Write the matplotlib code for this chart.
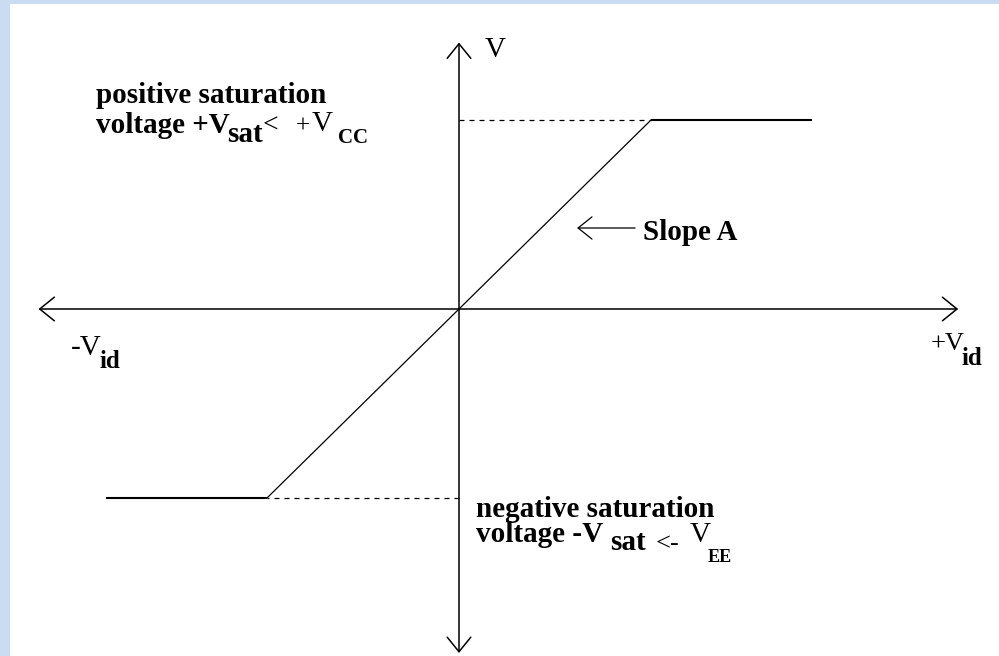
import matplotlib.pyplot as plt
from matplotlib.patches import Rectangle

plt.rcParams['font.family'] = ['Liberation Serif', 'DejaVu Serif']

# transfer curve of the op-amp (arbitrary units, saturation = +/-1)
vid = [-1.84, -1.0, 1.0, 1.84]
vout = [-1.0, -1.0, 1.0, 1.0]
# dashed guides from the V axis to the knees
knee_x = [-1.0, 1.0]
knee_y = [-1.0, 1.0]
# extent of the two axes
x_axis = (-2.19, 2.60)
y_axis = (-1.82, 1.41)
# slope label arrow
slope_from = (0.917, 0.4286)
slope_to = (0.615, 0.4286)

W, H = 999, 656
fig = plt.figure(figsize=(W / 100, H / 100), dpi=100)
fig.patch.set_facecolor('#c9dcf1')
fig.add_artist(Rectangle((10 / W, 0), 1 - 10 / W, 1 - 4 / H, transform=fig.transFigure,
                         facecolor='white', edgecolor='none', zorder=0))

ax = fig.add_axes([0, 0, 1, 1])
ax.set_xlim(-459 / 192, 540 / 192)
ax.set_ylim(-347 / 189, 309 / 189)
ax.axis('off')
ax.patch.set_visible(False)


def arrow(start, tip, lw=1.1, hl=1.05, hw=0.85):
    ax.annotate('', xy=tip, xytext=start,
                arrowprops=dict(arrowstyle='->,head_length=%s,head_width=%s' % (hl, hw),
                                lw=lw, color='black', shrinkA=0, shrinkB=0,
                                mutation_scale=10))


# axes with open arrowheads at both ends
arrow((0, 0), (x_axis[0], 0))
arrow((0, 0), (x_axis[1], 0))
arrow((0, 0), (0, y_axis[1]))
arrow((0, 0), (0, y_axis[0]))

# saturation levels and linear region
ax.plot(vid[:2], vout[:2], color='black', lw=1.5, solid_capstyle='butt')
ax.plot(vid[2:], vout[2:], color='black', lw=1.5, solid_capstyle='butt')
ax.plot(vid[1:3], vout[1:3], color='black', lw=0.9)
for kx, ky in zip(knee_x, knee_y):
    ax.plot([0, kx], [ky, ky], color='black', lw=0.9, linestyle=(0, (4, 4)))

arrow(slope_from, slope_to, lw=0.9, hl=1.0, hw=0.8)


def txt(x, y, s, size=21, bold=True):
    fig.text(x / W, 1 - y / H, s, fontsize=size, va='baseline', ha='left',
             fontweight='bold' if bold else 'normal', color='black')


txt(643, 240, 'Slope A')
txt(485, 57, 'V', bold=False)

# -Vid and +Vid
txt(71, 355, '-V', bold=False)
txt(100, 368, 'id', size=18)
txt(931, 350, '+V', size=19, bold=False)
txt(962, 365, 'id', size=18)

# positive saturation note
txt(96, 103, 'positive saturation')
txt(96, 133, 'voltage +V')
txt(227, 142, 'sat')
txt(263, 133, '<', size=20, bold=False)
txt(296, 133, '+', size=18, bold=False)
txt(312, 131, 'V', bold=False)
txt(338, 143, 'CC', size=15)

# negative saturation note
txt(476, 517, 'negative saturation')
txt(476, 542, 'voltage -V')
txt(610, 550, 'sat')
txt(656, 550, '<-', size=19, bold=False)
txt(690, 542, 'V', bold=False)
txt(708, 562, 'EE', size=13)

fig.savefig('out.png', dpi=100, facecolor=fig.get_facecolor())
